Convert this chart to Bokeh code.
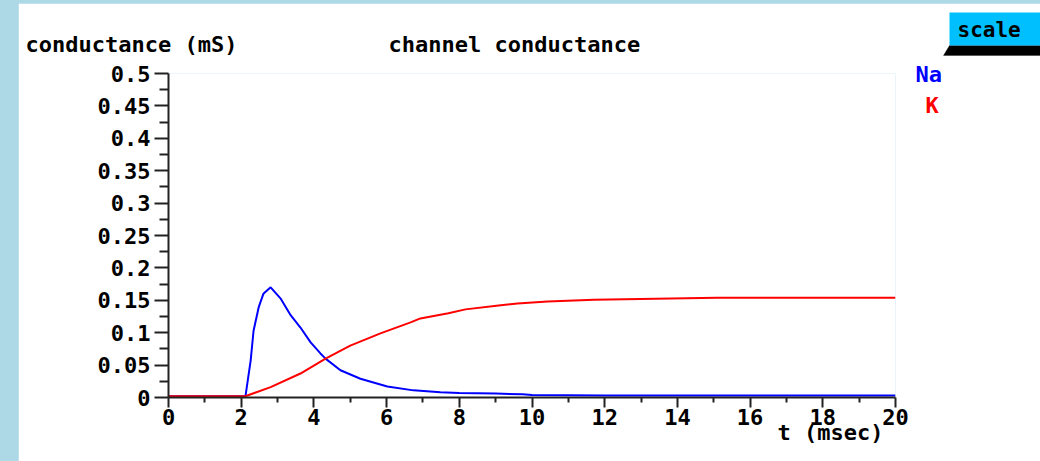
from bokeh.plotting import figure
from bokeh.models import (Range1d, FixedTicker, Label, BoxAnnotation, PolyAnnotation,
                          NumeralTickFormatter)
from bokeh.layouts import column
from bokeh.embed import file_html
from bokeh.resources import INLINE

# Sodium conductance (mS) against time (msec)
t_na = [0, 2.10, 2.12, 2.26, 2.34, 2.48, 2.61, 2.81, 3.08, 3.36, 3.63, 3.91, 4.18, 4.32,
        4.73, 5.28, 6.02, 6.74, 7.48, 8.0, 9.0, 9.74, 10.0, 12.0, 16.0, 20.0]
g_na = [0.002, 0.002, 0.003, 0.057, 0.103, 0.139, 0.160, 0.170, 0.153, 0.127, 0.108, 0.085,
        0.068, 0.060, 0.042, 0.029, 0.017, 0.011, 0.008, 0.007, 0.006, 0.005, 0.004, 0.003,
        0.003, 0.003]

# Potassium conductance (mS) against time (msec)
t_k = [0, 2.10, 2.17, 2.81, 3.63, 4.32, 5.0, 5.83, 6.66, 6.93, 7.7, 8.17, 9.08, 9.6, 10.43,
       11.7, 15.1, 20.0]
g_k = [0.002, 0.002, 0.003, 0.016, 0.037, 0.060, 0.080, 0.099, 0.116, 0.122, 0.130, 0.136,
       0.142, 0.145, 0.148, 0.151, 0.154, 0.154]

x_ticks = [0, 2, 4, 6, 8, 10, 12, 14, 16, 18, 20]
x_minor = [1, 3, 5, 7, 9, 11, 13, 15, 17, 19]
y_ticks = [0, 0.05, 0.1, 0.15, 0.2, 0.25, 0.3, 0.35, 0.4, 0.45, 0.5]
y_minor = [0.025, 0.075, 0.125, 0.175, 0.225, 0.275, 0.325, 0.375, 0.425, 0.475]

FONT = "DejaVu Sans Mono"
SIZE = "22px"

PAGE_W, PAGE_H = 1040, 461
# plot frame on the page: left, right, top, bottom (pixels)
FL, FR, FT, FB = 168, 895, 73, 397
PAD_L, PAD_T = 18, 3
W, H = PAGE_W - PAD_L, PAGE_H - PAD_T

p = figure(width=W, height=H, output_backend="svg", toolbar_location=None,
           x_range=Range1d(0, 20), y_range=Range1d(0, 0.5),
           min_border_left=FL - PAD_L, min_border_right=W - (FR - PAD_L),
           min_border_top=FT - PAD_T, min_border_bottom=H - (FB - PAD_T))
p.frame_align = False
p.outline_line_color = None
p.border_fill_color = "white"
p.background_fill_color = "white"
p.grid.visible = False

p.line(t_na, g_na, color="#0000ff", line_width=2)
p.line(t_k, g_k, color="#ff0000", line_width=2)

for ax in (p.xaxis[0], p.yaxis[0]):
    ax.axis_line_color = "#222222"
    ax.axis_line_width = 2
    ax.major_tick_line_color = "#222222"
    ax.minor_tick_line_color = "#222222"
    ax.major_tick_line_width = 2
    ax.minor_tick_line_width = 2
    ax.major_tick_in = 0
    ax.minor_tick_in = 0
    ax.major_label_text_font = FONT
    ax.major_label_text_font_style = "bold"
    ax.major_label_text_font_size = SIZE
    ax.major_label_text_color = "black"

p.xaxis.ticker = FixedTicker(ticks=x_ticks, minor_ticks=x_minor)
p.xaxis.major_tick_out = 10
p.xaxis.minor_tick_out = 5
p.xaxis.major_label_standoff = 1
p.xaxis.formatter = NumeralTickFormatter(format="0")

p.yaxis.ticker = FixedTicker(ticks=y_ticks, minor_ticks=y_minor)
p.yaxis.major_tick_out = 14
p.yaxis.minor_tick_out = 9
p.yaxis.major_label_standoff = 4
p.yaxis.formatter = NumeralTickFormatter(format="0.[00]")

# Transparent sheet over the whole page for the headings, legend and button,
# laid out in page pixels (y grows downwards).
ov = figure(width=PAGE_W, height=PAGE_H, output_backend="svg", toolbar_location=None,
            x_range=Range1d(0, PAGE_W), y_range=Range1d(PAGE_H, 0),
            x_axis_type=None, y_axis_type=None, min_border=0,
            styles={"position": "absolute", "top": "0px", "left": "0px",
                    "pointer-events": "none"})
ov.frame_align = False
ov.outline_line_color = None
ov.border_fill_color = None
ov.background_fill_color = None
ov.grid.visible = False

# the sheet's text sits a few pixels low, so baselines are lifted by this much
LIFT = 8


def text(x, y, s, color="black", size=SIZE):
    ov.add_layout(Label(x=x, y=y - LIFT, text=s, text_font=FONT, text_font_style="bold",
                        text_font_size=size, text_color=color,
                        text_baseline="alphabetic"))


text(25, 52, "conductance (mS)")
text(388, 52, "channel conductance")
text(777, 440, "t (msec)")
text(915, 82, "Na", color="#0000ff")
text(925, 113, "K", color="#ff0000")

# "scale" button with its dark bevel
ov.add_layout(PolyAnnotation(xs=[943, 949, 1040, 1040], ys=[55, 45, 45, 55],
                             fill_color="black", fill_alpha=1, line_color="black"))
ov.add_layout(BoxAnnotation(left=949, right=1040, top=12, bottom=45,
                            fill_color="#00bfff", fill_alpha=1, line_color=None))
text(957, 37, "scale", size="21px")

page = column(p, ov, styles={"background-color": "#add8e6", "padding-left": f"{PAD_L}px",
                             "padding-top": f"{PAD_T}px", "position": "relative"})

open("out.html", "w").write(file_html(page, INLINE))
